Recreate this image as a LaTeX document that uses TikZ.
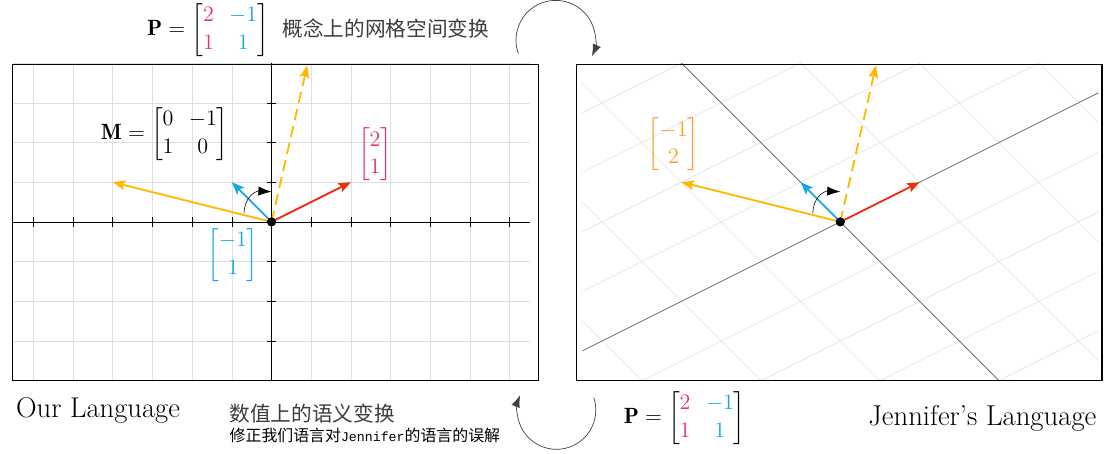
\documentclass[tikz,border=0pt]{standalone}
\usepackage{amsmath}
\usepackage{fontspec}
\newfontfamily\cjk{Noto Sans CJK SC}
\newfontfamily\cjkmono{Liberation Mono}
\usetikzlibrary{arrows.meta}
\definecolor{vred}{RGB}{232,48,14}
\definecolor{vblue}{RGB}{22,168,228}
\definecolor{vorange}{RGB}{255,184,0}
\definecolor{mred}{RGB}{226,52,92}
\definecolor{morange}{RGB}{246,160,40}
\definecolor{txtgray}{RGB}{60,60,60}
\begin{document}
\begin{tikzpicture}[
	vec/.style={line width=1.3pt,-{Stealth[length=9pt,width=7pt,inset=1.8pt]}},
	gridline/.style={gray!25,line width=.4pt},
	panel/.style={line width=1pt},
	mat/.style={font=\Large,scale=1.1,inner sep=1pt},
	turn/.style={line width=.4pt,-{Latex[length=3.3mm,width=2.3mm]}},
	loop/.style={black!75,line width=.5pt,-{Latex[length=3mm,width=2.2mm]}}]
	\useasboundingbox (-6.84,-5.84) rectangle (21.15,5.59);
	% our language
	\draw[gridline] (-6.5,-4) grid (6.5,4);
	\draw (-6.53,0)--(6.5,0);
	\draw (0,-4)--(0,4);
	\foreach \x in {-6,...,-1,1,2,...,6} \draw (\x,-.12)--(\x,.12);
	\foreach \y in {-3,...,-1,1,2,3} \draw (-.12,\y)--(.12,\y);
	\draw[panel] (-6.53,-4) rectangle (6.72,3.97);
	% jennifer's language
	\begin{scope}
		\clip (7.83,-4) rectangle (20.83,4);
		\begin{scope}[cm={2,1,-1,1,(14.33,0)}]
			\foreach \k in {-5,...,5} {\draw[gridline] (\k,-6)--(\k,6); \draw[gridline] (-6,\k)--(6,\k);}
			\draw[gray,line width=.6pt] (-4,0)--(4,0);
			\draw[line width=.3pt] (0,-6)--(0,6);
		\end{scope}
	\end{scope}
	\draw[panel] (7.68,-4) rectangle (20.92,3.97);
	% the same vectors in both
	\foreach \o in {0,14.33} {
		\begin{scope}[shift={(\o,0)}]
			\draw[vec,vorange] (0,0)--(-4,1);
			\draw[vec,vorange,dash pattern=on 8pt off 4.5pt] (0,0)--(0.9,3.94);
			\draw[vec,vblue] (0,0)--(-1,1);
			\draw[vec,vred] (0,0)--(2,1);
			\draw[turn] (-0.69,0.22) .. controls (-0.69,0.62) and (-0.4,0.78) .. (0,0.76);
			\fill (0,0) circle (3.3pt);
		\end{scope}}
	% labels
	\node[mat] (Ptop) at (-1.6,4.83) {$\mathbf{P}=\begin{bmatrix}\color{mred}2&\color{vblue}-1\\\color{mred}1&\color{vblue}1\end{bmatrix}$};
	\node[text=txtgray] (grid) at (2.88,4.87) {\fontsize{14.8}{18}\selectfont\cjk 概念上的网格空间变换};
	\node[mat] (Meq) at (-2.69,2.22) {$\mathbf{M}=\begin{bmatrix}0&-1\\1&0\end{bmatrix}$};
	\node[mat,text=mred] (vr) at (2.61,1.7) {$\begin{bmatrix}2\\1\end{bmatrix}$};
	\node[mat,text=vblue] (vb) at (-0.97,-0.83) {$\begin{bmatrix}-1\\1\end{bmatrix}$};
	\node[mat,text=morange] (vo) at (10.13,1.95) {$\begin{bmatrix}-1\\2\end{bmatrix}$};
	\node[anchor=base west,inner sep=0pt] (ours) at (-6.44,-4.94) {\fontsize{20.5}{24}\selectfont Our Language};
	\node[anchor=base east,inner sep=0pt] (hers) at (20.79,-5.14) {\fontsize{20.6}{24}\selectfont Jennifer's Language};
	\node[anchor=west,text=txtgray,inner sep=0pt] (sem) at (-1.06,-4.83) {\fontsize{14.8}{18}\selectfont\cjk 数值上的语义变换};
	\node[anchor=west,inner sep=0pt] (fix) at (-1.06,-5.37) {\fontsize{11.4}{14}\selectfont\cjk 修正我们语言对{\cjkmono\fontsize{9.5}{12}\selectfont Jennifer}的语言的误解};
	\node[mat] (Pbot) at (10.41,-4.94) {$\mathbf{P}=\begin{bmatrix}\color{mred}2&\color{vblue}-1\\\color{mred}1&\color{vblue}1\end{bmatrix}$};
	% the two loops
	\draw[loop] (7.16,4.58) ++(200:1) arc[start angle=200,end angle=-24,radius=1];
	\draw[loop] (7.18,-4.74) ++(18.5:0.99) arc[start angle=18.5,end angle=-202,radius=0.99];
\end{tikzpicture}
\end{document}
